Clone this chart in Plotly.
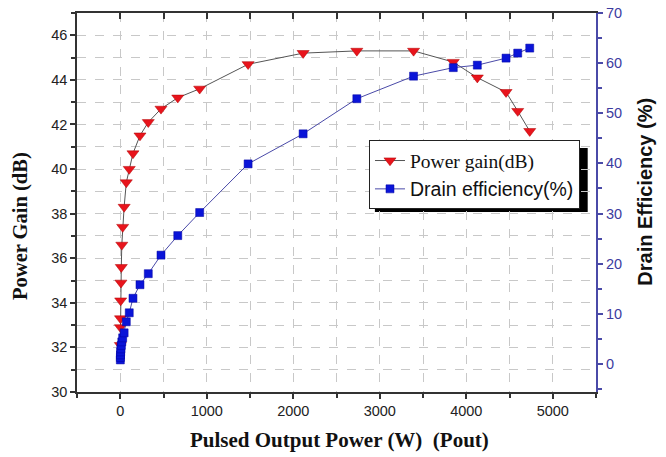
import plotly.graph_objects as go

pout = [1, 2, 3, 5, 8, 12, 18, 28, 45, 70, 104, 147, 228, 324, 471, 665, 918,
        1478, 2114, 2735, 3391, 3850, 4128, 4460, 4595, 4734]
gain = [32.1, 32.9, 33.3, 34.1, 34.9, 35.6, 36.6, 37.4, 38.3, 39.4, 40.0, 40.7,
        41.5, 42.1, 42.7, 43.2, 43.6, 44.7, 45.2, 45.3, 45.3, 44.8, 44.1, 43.45,
        42.6, 41.7]
eff = [0.8, 1.3, 1.8, 2.4, 3.0, 3.7, 4.4, 5.2, 6.2, 8.4, 10.2, 13.1, 15.8, 18.0,
       21.7, 25.6, 30.2, 39.9, 45.9, 52.9, 57.4, 59.1, 59.6, 61.0, 62.0, 63.0]

fig = go.Figure()
fig.add_trace(go.Scatter(
    x=pout, y=gain, mode="lines+markers",
    name='<span style="font-family:Liberation Serif">Power gain(dB)</span>',
    line=dict(color="#555555", width=1),
    marker=dict(symbol="triangle-down", size=10.5, color="#e8141c",
                line=dict(color="#b00000", width=0.5)),
    yaxis="y"))
fig.add_trace(go.Scatter(
    x=pout, y=eff, mode="lines+markers",
    name='<span style="font-family:Liberation Sans">Drain efficiency(%)</span>',
    line=dict(color="#4a4aa8", width=1),
    marker=dict(symbol="square", size=8, color="#0a14d8",
                line=dict(color="#0000a0", width=0.5)),
    yaxis="y2"))
# empty anchor trace so the top mirror axis is drawn
fig.add_trace(go.Scatter(x=[], y=[], xaxis="x3", showlegend=False))

axcol = "#333333"
blue = "#4a4aa8"
grid = dict(showgrid=True, gridcolor="#c8c8c8", griddash="dash", gridwidth=1)
tickfont = dict(family="Liberation Sans", size=14.5, color="#222222")

fig.update_layout(
    width=666, height=457,
    margin=dict(l=77, r=70, t=13, b=65),
    paper_bgcolor="white", plot_bgcolor="white",
    showlegend=True,
    xaxis=dict(range=[-500, 5500], dtick=1000, tick0=0, automargin=False,
               ticks="outside", ticklen=5, tickwidth=1.5, tickcolor=axcol,
               showline=True, linecolor=axcol, linewidth=1.5,
               tickfont=tickfont, zeroline=False, **grid,
               minor=dict(dtick=500, ticks="outside", ticklen=4, tickcolor=axcol,
                          showgrid=True, gridcolor="#c8c8c8", griddash="dash")),
    xaxis3=dict(range=[-500, 5500], overlaying="x", side="top", dtick=500, tick0=0,
                ticks="inside", ticklen=6, tickwidth=1.5, tickcolor=axcol,
                showline=True, linecolor=axcol, linewidth=1.5, automargin=False,
                showticklabels=False, showgrid=False, zeroline=False),
    yaxis=dict(range=[30, 47], dtick=2, tick0=30, automargin=False,
               ticks="outside", ticklen=5, tickwidth=1.5, tickcolor=axcol,
               showline=True, linecolor=axcol, linewidth=1.5,
               tickfont=tickfont, zeroline=False, **grid,
               minor=dict(dtick=1, ticks="outside", ticklen=4, tickcolor=axcol,
                          showgrid=True, gridcolor="#c8c8c8", griddash="dash")),
    yaxis2=dict(range=[-5.6, 70], dtick=10, tick0=0, overlaying="y", side="right",
                automargin=False,
                ticks="outside", ticklen=5, tickwidth=1.5, tickcolor=blue,
                showline=True, linecolor=blue, linewidth=2,
                tickfont=dict(family="Liberation Sans", size=14.5, color="#3c3ca0"),
                showgrid=False, zeroline=False,
                minor=dict(dtick=5, ticks="outside", ticklen=4, tickcolor=blue)),
    legend=dict(x=0.5626, y=0.664, xanchor="left", yanchor="top",
                bgcolor="white", bordercolor="#222222", borderwidth=1,
                font=dict(size=19.5, color="#111111"),
                itemwidth=30, tracegroupgap=0),
    shapes=[dict(type="rect", xref="paper", yref="paper",
                 x0=0.574, x1=0.984, y0=0.475, y1=0.644,
                 fillcolor="black", line=dict(width=0), layer="below")],
    annotations=[
        dict(text="<b>Pulsed Output Power (W)  (Pout)</b>", xref="paper", yref="paper",
             x=0.505, y=-0.127, xanchor="center", yanchor="middle", showarrow=False,
             font=dict(family="Liberation Serif", size=21, color="#111111")),
        dict(text="<b>Power Gain (dB)</b>", xref="paper", yref="paper",
             x=-0.108, y=0.438, xanchor="center", yanchor="middle", showarrow=False,
             textangle=-90,
             font=dict(family="Liberation Serif", size=20.5, color="#111111")),
        dict(text="<b>Drain Efficiency (%)</b>", xref="paper", yref="paper",
             x=1.094, y=0.528, xanchor="center", yanchor="middle", showarrow=False,
             textangle=-90,
             font=dict(family="Liberation Sans", size=20, color="#111111")),
    ],
)

fig.write_html("out.html", config={"displayModeBar": False},
               post_script="document.body.style.margin='0';")
